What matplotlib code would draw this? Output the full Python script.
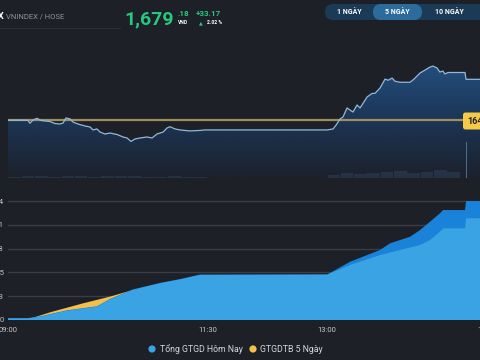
import matplotlib
matplotlib.use("Agg")
import matplotlib.pyplot as plt
import numpy as np
from matplotlib.colors import LinearSegmentedColormap
from matplotlib.patches import FancyBboxPatch, Circle

plt.rcParams["font.family"] = ["Roboto", "DejaVu Sans"]

BG = "#1e2027"
GREEN = "#27c97e"
LBLUE = "#3aa3e3"
DBLUE = "#1a82d8"
YELLOW = "#f5c04a"

# ---------------------------------------------------------------------------
# Data (minutes after 09:00)
# ---------------------------------------------------------------------------
ref_price = 1646.01
price_t = [0, 15, 16.5, 18.8, 21.8, 24.8, 31.6, 35.3, 39.1, 41.4, 43.6, 46.6, 48.9,
           52.6, 57.9, 61.7, 63.9, 66.9, 69.2, 72.9, 76.7, 82, 86.5, 89.5, 92.5, 95.5,
           99.3, 104.5, 108.3, 112, 116.6, 119.6, 121.8, 125.6, 129.3, 136.9, 144.4,
           148.1, 240, 244.4, 246.7, 249.7, 251.9, 254.9, 257.2, 259.4, 262.4, 264.7,
           270, 273.7, 276, 279.7, 283.5, 285.8, 288.8, 291, 294.8, 302.3, 305.3,
           309.8, 313.6, 317.3, 319.6, 322.6, 324.7, 327, 328.5, 330.8, 343.6, 344.4,
           362.5]
price_v = [1646.01, 1646.01, 1643.6, 1646.25, 1647.6, 1645.85, 1645.0, 1643.4, 1643.0,
           1643.8, 1647.9, 1647.1, 1644.6, 1643.0, 1641.4, 1640.6, 1638.2, 1639.0,
           1636.5, 1634.9, 1635.7, 1634.5, 1632.5, 1631.7, 1628.9, 1630.9, 1631.7,
           1632.5, 1631.7, 1634.9, 1636.5, 1639.8, 1640.8, 1639.0, 1638.2, 1637.4,
           1637.8, 1638.2, 1638.2, 1639.0, 1642.2, 1647.1, 1648.7, 1656.0, 1654.3,
           1652.7, 1658.4, 1656.0, 1664.9, 1667.7, 1667.9, 1672.1, 1679.4, 1678.4,
           1680.2, 1677.6, 1676.8, 1676.8, 1679.4, 1684.3, 1686.7, 1689.1, 1689.9,
           1688.3, 1685.1, 1685.9, 1683.5, 1684.7, 1684.7, 1679.18, 1679.18]

vol_t = [5, 15, 25, 35, 45, 55, 65, 75, 85, 95, 105, 115, 125, 135, 145,
         245, 255, 265, 275, 285, 295, 305, 315, 325, 335, 344.5]
vol_v = [1, 2, 2, 1.5, 2, 2, 1.5, 2, 2.5, 2, 1.5, 1.5, 2, 1.5, 1,
         3, 5, 4, 5, 6, 7, 5, 6, 8, 6, 36]

# cumulative trading value
today_t = [0, 15, 24.1, 44.4, 66.9, 76.7, 94, 114.3, 129.3, 144.4, 240, 257.2,
           279.7, 287.3, 294.8, 302.3, 309.8, 317.3, 324.8, 327.1, 343.6, 344.4, 362.5]
today_v = [0.22, 0.22, 0.41, 1.08, 1.52, 2.33, 3.38, 4.10, 4.52, 5.02, 5.02, 6.43,
           7.73, 8.47, 8.83, 9.19, 9.93, 10.85, 11.78, 12.14, 12.14, 13.13, 13.13]
match_t = [0, 15, 24.1, 44.4, 66.9, 76.7, 94, 114.3, 129.3, 144.4, 240, 257.2,
           279.7, 294.8, 309.8, 317.3, 324.8, 327.1, 343.6, 344.4, 362.5]
match_v = [0.17, 0.17, 0.36, 1.03, 1.47, 2.28, 3.33, 4.05, 4.47, 4.97, 5.02, 6.07,
           7.17, 7.73, 8.28, 8.83, 9.75, 10.12, 10.12, 11.23, 11.23]
avg5_t = [0, 15, 31.6, 56.4, 76.7, 94, 100]
avg5_v = [0.17, 0.14, 0.92, 1.91, 2.65, 3.39, 3.45]

val_ticks = [0, 2.627, 5.254, 7.881, 10.508, 13.135]
val_labels = ["0", "2.63", "5.25", "7.88", "10.51", "13.14"]
time_ticks = [0, 150, 240, 360]
time_labels = ["09:00", "11:30", "13:00", "15:00"]

# ---------------------------------------------------------------------------
fig = plt.figure(figsize=(4.8, 3.6), dpi=100, facecolor=BG)

# price panel
ax1 = fig.add_axes([8 / 480, 1 - 178 / 360, 482 / 480, 138 / 360])
ax1.set_facecolor(BG)
ymin, ymax = 1599.3, 1711.0
xmax = 362.4
ax1.set_xlim(0, xmax)
ax1.set_ylim(ymin, ymax)
for s in ax1.spines.values():
    s.set_visible(False)
ax1.set_xticks([])
ax1.set_yticks([])

poly = ax1.fill_between(price_t, price_v, ymin, facecolor="none", edgecolor="none")
cmap = LinearSegmentedColormap.from_list(
    "g", [(0, "#1c212c"), (0.42, "#1c3555"), (1, "#26598e")])
grad = np.linspace(0, 1, 256).reshape(-1, 1)
im = ax1.imshow(grad, cmap=cmap, aspect="auto", extent=(0, xmax, ymax, ymin),
                origin="upper", zorder=1)
im.set_clip_path(poly.get_paths()[0], transform=ax1.transData)

axv = ax1.twinx()
axv.set_ylim(0, 138)
axv.set_axis_off()
axv.bar(vol_t[:-1], vol_v[:-1], width=9.5, color="#5b8fc0", alpha=0.16, linewidth=0)
axv.bar(vol_t[-1:], vol_v[-1:], width=0.7, color="#6d9cc8", alpha=0.6, linewidth=0)

ax1.axhline(ref_price, color="#a08f5e", lw=1.6, zorder=3)
ax1.plot(price_t, price_v, color="#93b8d9", lw=0.9, zorder=4)

# value panel
ax3 = fig.add_axes([8 / 480, 40 / 360, 482 / 480, 123 / 360])
ax3.set_facecolor(BG)
ax3.set_xlim(0, xmax)
ax3.set_ylim(0, 13.58)
for s in ax3.spines.values():
    s.set_visible(False)
ax3.set_yticks(val_ticks)
ax3.set_yticklabels(val_labels)
ax3.set_xticks(time_ticks)
ax3.set_xticklabels(time_labels)
ax3.tick_params(axis="y", length=0, pad=3, labelsize=5.5, labelcolor="#c3c7cd")
ax3.tick_params(axis="x", length=0, pad=5, labelsize=5.5, labelcolor="#c3c7cd")
ax3.grid(axis="y", color="#3a3d45", lw=1)
ax3.set_axisbelow(True)
ax3.fill_between(avg5_t, avg5_v, 0.1, color=YELLOW, lw=0, zorder=2)
ax3.fill_between(today_t, today_v, 0, color=DBLUE, lw=0, zorder=3)
ax3.fill_between(match_t, match_v, 0, color=LBLUE, lw=0, zorder=4)

# overlay in pixel coordinates
ax0 = fig.add_axes([0, 0, 1, 1], zorder=10)
ax0.set_xlim(0, 480)
ax0.set_ylim(360, 0)
ax0.axis("off")

ax0.plot([0, 120], [27.5, 27.5], color="#2c2f37", lw=0.8)
ax0.text(3.5, 16.5, "X", color="white", fontsize=6.5, fontweight="bold",
         ha="right", va="center")
ax0.text(6, 16.5, "VNINDEX / HOSE", color="#8d939b", fontsize=5.5, va="center")
ax0.text(124, 24, "1,679", color=GREEN, fontsize=14, fontweight="bold", va="baseline")
ax0.text(178, 16.5, ".18", color=GREEN, fontsize=5.8, fontweight="bold", va="baseline")
ax0.text(178, 24, "VND", color="white", fontsize=3.6, fontweight="bold", va="baseline")
ax0.text(196, 16.5, "+33.17", color=GREEN, fontsize=5.8, fontweight="bold", va="baseline")
ax0.text(200.5, 24.3, "▲", color=GREEN, fontsize=3.5, ha="center", va="baseline",
         family="DejaVu Sans")
ax0.text(207, 24, "2.02 %", color="white", fontsize=3.6, fontweight="bold", va="baseline")

ax0.add_patch(FancyBboxPatch((325, 4), 175, 16, boxstyle="round,pad=0,rounding_size=8",
                             fc="#1b3a56", ec="none"))
ax0.add_patch(FancyBboxPatch((373, 4), 49, 16, boxstyle="round,pad=0,rounding_size=8",
                             fc="#2c6c9c", ec="none"))
for cx, lab in [(349, "1 NGÀY"), (397, "5 NGÀY"), (449, "10 NGÀY")]:
    ax0.text(cx, 12.5, lab, color="white", fontsize=5, fontweight="bold",
             ha="center", va="center")

ax0.add_patch(FancyBboxPatch((463, 112.5), 30, 17, boxstyle="round,pad=0,rounding_size=2.5",
                             fc="#f7c948", ec="none"))
ax0.text(467.5, 121.3, f"{ref_price:.2f}", color="#1e1e1e", fontsize=6.5,
         fontweight="bold", va="center")

ax0.add_patch(Circle((152, 349), 3.6, fc=LBLUE, ec="none"))
ax0.text(159.5, 349, "Tổng GTGD Hôm Nay", color="#d3d7dc", fontsize=6.3, va="center")
ax0.add_patch(Circle((253, 349), 3.6, fc=YELLOW, ec="none"))
ax0.text(259.5, 349, "GTGDTB 5 Ngày", color="#d3d7dc", fontsize=6.3, va="center")

fig.savefig("out.png", dpi=100, facecolor=BG)
